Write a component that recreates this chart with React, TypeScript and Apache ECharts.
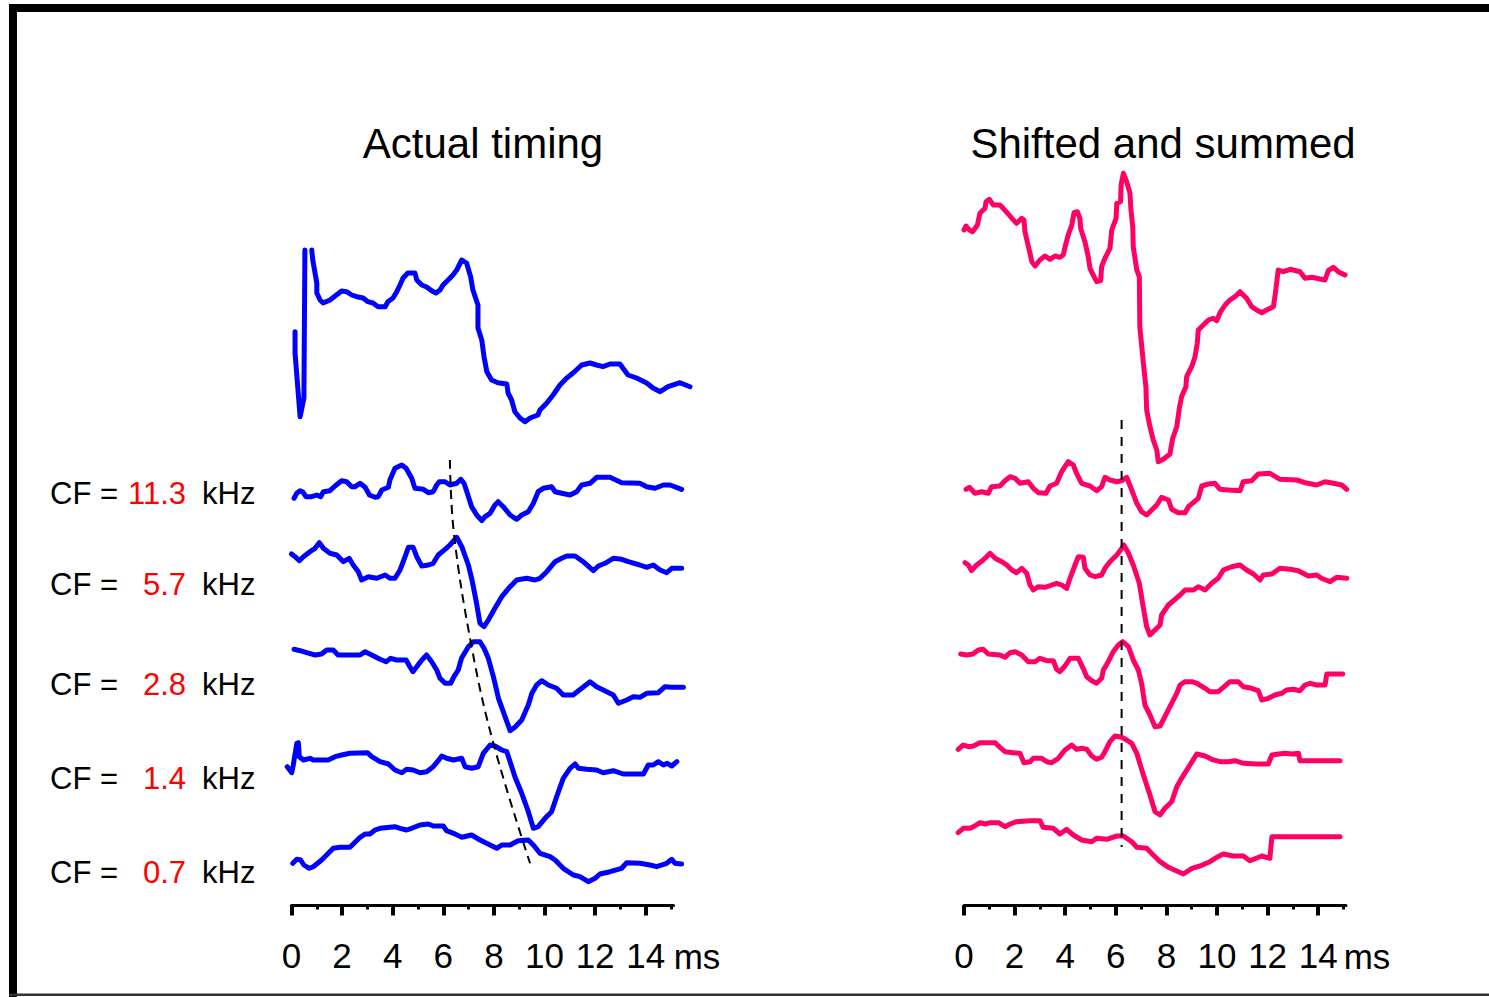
import React, { useEffect, useRef } from "react";
import * as echarts from "echarts";

const FONT = '"Liberation Sans", Arial, Helvetica, sans-serif';
const BLUE = "#0000ff";
const PINK = "#ff0066";
const CF_RED = "#ff0000";

// axis ticks (ms)
const tickValues = [0, 2, 4, 6, 8, 10, 12, 14];
const minorTickValues = [1, 3, 5, 7, 9, 11, 13, 15];
const axisRange = [0, 15.1];
const traceRange = [-0.5, 16.5];
const unitLabel = "ms";
const panelTitles = ["Actual timing", "Shifted and summed"];
const cfLabels = ["11.3", "5.7", "2.8", "1.4", "0.7"];

// vertical offsets of each trace (amplitude units), top trace first
const actualOffsets = [600, 410, 340, 250, 140, 40];
const shiftedOffsets = [670, 410, 330, 245, 155, 70];

// [time ms, amplitude]; null amplitude = gap (clipped)
const actualSum = [[0.14,-31.7],[0.14,-53],[0.34,-116.7],[0.49,-98],[0.53,50],[0.66,null],[0.80,50],[0.84,40],[1.00,17],[1.00,7],[1.13,0],[1.25,-3],[1.52,0],[1.98,9],[2.18,8.3],[2.38,5],[2.58,3.3],[2.83,2],[3.02,-1.7],[3.22,-3],[3.42,-6.7],[3.70,-6.7],[3.81,-1.7],[4.01,2],[4.16,8.3],[4.29,15],[4.41,22],[4.60,27],[4.88,27],[4.95,20],[5.15,15],[5.34,13],[5.54,9.3],[5.71,7],[5.87,10],[5.99,15],[6.19,20],[6.38,25],[6.53,30],[6.73,40],[6.92,37],[7.08,23.3],[7.17,10],[7.37,-5],[7.37,-28],[7.52,-40],[7.61,-56.7],[7.72,-71.7],[7.91,-80],[8.16,-82.7],[8.51,-84],[8.56,-93],[8.70,-100],[8.83,-111.7],[9.03,-118],[9.23,-121.7],[9.43,-118],[9.74,-115],[9.82,-110],[10.09,-103],[10.34,-95],[10.61,-85],[10.88,-78],[11.13,-73],[11.47,-65],[11.80,-63],[12.06,-65],[12.31,-66.7],[12.59,-64],[12.98,-64],[13.30,-75],[13.64,-78],[14.04,-83],[14.29,-88],[14.57,-91.7],[14.88,-86.7],[15.36,-82.7],[15.75,-86.7]];
const actual11_3 = [[0.10,-8.3],[0.21,-3.3],[0.34,-0.7],[0.44,-1.7],[0.57,-6.7],[0.80,-6.7],[1.00,-5],[1.15,-6.7],[1.26,-1.7],[1.52,-0.7],[1.72,4],[1.98,9.3],[2.18,8.3],[2.38,3.3],[2.51,3.3],[2.71,6.7],[2.91,2.7],[3.08,-5],[3.30,-7.3],[3.43,-6.7],[3.57,0],[3.83,2.7],[3.89,10],[4.09,21.7],[4.36,25],[4.53,21.7],[4.75,11.7],[4.88,1.7],[5.21,0.7],[5.41,-2.7],[5.60,-1.7],[5.74,5],[5.84,8.3],[6.07,8.3],[6.26,5],[6.53,6.7],[6.69,10.7],[6.82,6.7],[6.95,-3.3],[7.12,-16.7],[7.32,-25],[7.52,-30.7],[7.65,-26.7],[7.85,-23.3],[8.04,-15],[8.17,-11.7],[8.37,-16.7],[8.64,-25],[8.90,-29.3],[9.10,-25],[9.36,-21.7],[9.56,-13.3],[9.75,-1.7],[9.95,1.7],[10.28,3.3],[10.42,-1.7],[10.68,-3.3],[11.01,-5],[11.27,-1.7],[11.47,5],[11.80,6.7],[12.06,12.7],[12.59,12.7],[13.05,7.3],[13.77,6.7],[14.04,3.3],[14.37,1.7],[14.70,5],[14.96,5],[15.42,0.7]];
const actual5_7 = [[0.00,6],[0.14,3.3],[0.31,-0.7],[0.47,3.3],[0.73,8.3],[0.93,11.7],[1.10,17.3],[1.26,11.7],[1.52,6.7],[1.79,5],[2.05,-1.7],[2.28,1.7],[2.44,-5],[2.64,-11.7],[2.77,-20],[3.04,-16.7],[3.37,-18.3],[3.70,-15],[3.89,-18.3],[4.09,-18.3],[4.29,-10],[4.49,3.3],[4.62,12.7],[4.81,12.7],[4.95,3.3],[5.15,-6],[5.41,-5],[5.60,-3.3],[5.80,5],[6.07,10.7],[6.26,15],[6.53,22.7],[6.73,13.3],[6.99,-5],[7.12,-18.3],[7.29,-40],[7.45,-63.3],[7.61,-66.7],[7.78,-60],[8.04,-48.3],[8.31,-36.7],[8.64,-26.7],[8.90,-20],[9.30,-18.3],[9.62,-20],[9.82,-18.3],[10.09,-11.7],[10.42,-1.7],[10.68,1.7],[10.88,4],[11.21,4],[11.53,-1.7],[11.93,-10.7],[12.13,-6],[12.39,-3.3],[12.72,1.7],[13.05,0.7],[13.31,-1.7],[13.77,-5],[14.04,-7.3],[14.30,-5],[14.57,-10],[14.83,-12.7],[15.03,-8.3],[15.42,-8.3]];
const actual2_8 = [[0.10,0.7],[0.34,-0.7],[0.60,-2.7],[0.93,-5],[1.19,-4],[1.39,0],[1.65,0],[1.84,-5],[2.18,-5],[2.71,-5],[2.91,-1.7],[3.17,-5],[3.50,-9.3],[3.74,-11.7],[3.92,-8.3],[4.16,-10],[4.53,-10],[4.66,-16],[4.80,-21.7],[4.95,-16.7],[5.15,-10],[5.34,-5],[5.54,-11.7],[5.74,-20],[5.87,-28.3],[6.07,-33.3],[6.29,-33.3],[6.42,-26.7],[6.59,-20],[6.72,-8.3],[6.99,3.3],[7.19,8.3],[7.45,8.3],[7.61,1.7],[7.78,-8.3],[7.98,-26.7],[8.18,-48.3],[8.44,-66.7],[8.64,-80.7],[8.83,-77.3],[9.10,-70],[9.36,-55],[9.50,-43.3],[9.69,-35],[9.89,-30.7],[10.15,-35],[10.48,-38.3],[10.74,-45],[11.13,-45],[11.47,-38.3],[11.80,-31.7],[12.06,-36.7],[12.46,-41.7],[12.72,-45],[12.92,-53.3],[13.25,-50],[13.51,-46.7],[13.77,-47.3],[14.04,-43.3],[14.50,-42.7],[14.76,-36.7],[15.03,-37.3],[15.49,-37.3]];
const actual1_4 = [[-0.17,-6.7],[0.01,-12.7],[0.07,-5],[0.21,16.7],[0.27,17.3],[0.31,3.3],[0.47,0],[0.73,1.7],[0.86,0],[1.45,0],[1.72,3.3],[1.98,5],[2.31,6.7],[3.00,7.3],[3.17,3.3],[3.50,-1.7],[3.83,-4],[4.09,-10],[4.36,-12.7],[4.55,-9.3],[4.81,-10],[5.08,-12.7],[5.34,-11.7],[5.60,-6.7],[5.80,-0.7],[5.94,4],[6.13,1.7],[6.40,0],[6.73,1.7],[6.86,-6.7],[7.12,-8.3],[7.38,-6.7],[7.58,6.7],[7.85,15],[8.04,14],[8.31,10],[8.51,8.3],[8.64,-1.7],[8.83,-16.7],[9.10,-33.3],[9.36,-51.7],[9.56,-68.3],[9.75,-66.7],[10.02,-58.3],[10.28,-51.7],[10.48,-36.7],[10.74,-18.3],[11.01,-8.3],[11.21,-4],[11.34,-8.3],[11.67,-9.3],[12.06,-10],[12.32,-12.7],[12.72,-10.7],[13.11,-14],[13.91,-14],[14.10,-5],[14.30,-5],[14.50,-1.7],[14.70,-5],[14.85,-3.3],[15.03,-6],[15.23,-1.7]];
const actual0_7 = [[0.05,-3.3],[0.21,0.7],[0.36,0],[0.49,-5],[0.70,-8.3],[0.86,-6.7],[1.19,0],[1.65,11.7],[1.92,12.7],[2.31,12.7],[2.71,22.7],[2.91,26],[3.10,26],[3.30,30],[3.50,31.7],[4.09,33.3],[4.29,31.7],[4.55,30],[4.75,31.7],[5.08,35],[5.41,36],[5.60,34],[6.00,34],[6.13,29.3],[6.40,26.7],[6.73,22.7],[7.12,25],[7.45,20],[7.85,15],[8.11,11.7],[8.31,15],[8.64,15],[8.96,19.3],[9.36,20],[9.56,15],[9.82,6.7],[10.22,3.3],[10.42,0],[10.74,-8.3],[11.14,-15],[11.40,-16.7],[11.73,-21.7],[12.00,-18.3],[12.19,-14],[12.59,-11.7],[13.05,-8.3],[13.25,-2.7],[13.77,-3.3],[14.17,-5],[14.43,-6.7],[14.83,-3.3],[15.03,0.7],[15.16,-3.3],[15.42,-4]];

const shiftedSum = [[0.00,0],[0.08,4],[0.21,0],[0.34,-1.7],[0.53,5],[0.63,16.7],[0.83,21.7],[0.87,28.3],[1.00,30.7],[1.16,25],[1.42,25],[1.55,21.7],[1.75,16],[1.95,10],[2.08,6.7],[2.28,11.7],[2.37,10],[2.41,-1.7],[2.50,-11.7],[2.61,-23.3],[2.68,-31.7],[2.81,-36],[3.00,-30],[3.20,-26],[3.40,-29.3],[3.60,-26],[3.79,-27.3],[3.92,-25],[4.03,-13.3],[4.12,-5],[4.26,5],[4.35,17.3],[4.48,18.3],[4.58,11.7],[4.61,1.7],[4.78,-11.7],[4.91,-26.7],[4.98,-38.3],[5.14,-46.7],[5.25,-51.7],[5.40,-50.7],[5.44,-36.7],[5.57,-28.3],[5.77,-18.3],[5.84,0],[6.01,11.7],[6.04,26.7],[6.19,28.3],[6.21,45],[6.30,56.7],[6.43,48.3],[6.56,36.7],[6.60,20],[6.67,3.3],[6.69,-16.7],[6.83,-40],[6.93,-46.7],[6.95,-96.7],[7.09,-133.3],[7.19,-156.7],[7.22,-180],[7.35,-196.7],[7.48,-210],[7.62,-220],[7.68,-231.7],[7.88,-229.3],[8.14,-224],[8.25,-208.3],[8.41,-196.7],[8.51,-178.3],[8.60,-166.7],[8.77,-156.7],[8.80,-146.7],[9.00,-136.7],[9.13,-126.7],[9.22,-113.3],[9.26,-100],[9.46,-95],[9.66,-90],[9.85,-88.3],[9.99,-90.7],[10.12,-82.7],[10.32,-75],[10.51,-70],[10.71,-66.7],[10.91,-61.7],[11.04,-65],[11.17,-68.3],[11.37,-76.7],[11.57,-80],[11.77,-82.7],[11.96,-80],[12.23,-76.7],[12.29,-66.7],[12.42,-40],[12.62,-41.7],[12.89,-39.3],[13.28,-41.7],[13.48,-48.3],[13.74,-47.3],[14.27,-50],[14.40,-40.7],[14.60,-37.3],[14.79,-41.7],[15.06,-45]];
const shifted11_3 = [[0.08,0.7],[0.21,2.7],[0.43,-3.3],[0.70,-1.7],[0.96,-3.3],[1.09,3.3],[1.42,4],[1.62,9.3],[1.82,13.3],[2.02,11.7],[2.21,6.7],[2.54,8.3],[2.74,1.7],[2.94,-2.7],[3.24,-3.3],[3.40,4],[3.66,6.7],[3.86,18.3],[4.12,28.3],[4.32,25],[4.45,16.7],[4.65,6.7],[4.98,4],[5.25,-0.7],[5.44,3.3],[5.57,12.7],[5.77,10],[6.04,8.3],[6.23,9.3],[6.43,12.7],[6.63,0],[6.83,-13.3],[7.02,-21.7],[7.22,-25],[7.42,-20],[7.62,-15],[7.81,-7.3],[8.08,-10],[8.21,-19.3],[8.47,-22.7],[8.74,-22.7],[8.87,-16.7],[9.26,-8.3],[9.40,4],[9.66,6],[9.92,6.7],[10.12,0.7],[10.45,0],[10.91,-0.7],[11.04,8.3],[11.37,9.3],[11.63,16],[12.09,16.7],[12.49,10.7],[13.15,10],[13.48,7.3],[13.94,5],[14.27,8.3],[14.60,6.7],[14.93,5],[15.13,0.7]];
const shifted5_7 = [[0.04,7.3],[0.17,5],[0.30,-0.7],[0.50,5],[0.76,10],[1.03,16.7],[1.23,11.7],[1.49,8.3],[1.69,5],[1.89,0],[2.08,-2.7],[2.28,1.7],[2.48,-3.3],[2.61,-15],[2.74,-20],[2.94,-16.7],[3.20,-17.3],[3.47,-15],[3.66,-13.3],[3.86,-15],[4.06,-18.3],[4.19,-8.3],[4.39,5],[4.52,13.3],[4.72,12.7],[4.78,1.7],[4.98,-5],[5.18,-6.7],[5.44,-5],[5.57,1.7],[5.77,8.3],[6.04,15],[6.19,20],[6.32,25],[6.50,16.7],[6.69,5],[6.93,-13.3],[7.06,-33.3],[7.22,-56.7],[7.35,-65],[7.55,-60],[7.75,-55],[7.81,-45],[8.08,-35],[8.34,-29.3],[8.54,-25],[8.74,-20],[9.07,-20],[9.26,-16.7],[9.53,-20],[9.79,-13.3],[10.05,-8.3],[10.25,0],[10.58,3.3],[10.91,5],[11.17,0],[11.44,-4],[11.70,-10],[11.83,-5],[12.17,-4],[12.49,1.7],[12.89,0.7],[13.21,-0.7],[13.61,-6],[13.94,-5],[14.13,-8.3],[14.47,-11.7],[14.73,-7.3],[15.13,-8.3]];
const shifted2_8 = [[-0.13,1],[0.11,0],[0.35,1],[0.57,5],[0.76,5.7],[0.96,1],[1.42,0],[1.62,-2.3],[1.82,2.3],[2.02,3.3],[2.28,0],[2.54,-6.7],[2.81,-6.7],[3.00,-3.3],[3.27,-5.7],[3.53,-5.7],[3.66,-14.3],[3.79,-16.7],[3.99,-11],[4.19,-3.3],[4.52,-3.3],[4.71,-13.3],[4.85,-21.7],[5.05,-25.7],[5.24,-28.3],[5.44,-23.3],[5.51,-15],[5.70,-6.7],[5.90,3.3],[6.10,10],[6.27,13.3],[6.50,8.3],[6.69,-5],[6.89,-15],[7.02,-28.3],[7.15,-50],[7.35,-60],[7.55,-71.7],[7.75,-71],[7.94,-61.7],[8.14,-51.7],[8.41,-38.3],[8.54,-30],[8.74,-26.7],[9.01,-26.7],[9.21,-28.3],[9.53,-33.3],[9.72,-36.7],[10.05,-36.7],[10.25,-32.3],[10.51,-26.7],[10.84,-26.7],[11.04,-31.7],[11.37,-33.3],[11.63,-35.7],[11.77,-45],[12.03,-43.3],[12.29,-40],[12.56,-38.3],[12.75,-35],[13.02,-34.3],[13.28,-35.7],[13.48,-30],[13.68,-28.3],[13.94,-30],[14.27,-30],[14.34,-19],[14.97,-19]];
const shifted1_4 = [[-0.23,-4.3],[-0.03,0],[0.17,-1.7],[0.37,-1],[0.63,2.3],[1.23,2.3],[1.42,-2.3],[1.62,-6.7],[1.95,-7.7],[2.21,-8.3],[2.37,-17.7],[2.61,-16.7],[2.74,-13.3],[3.07,-13.3],[3.27,-16.7],[3.47,-17.7],[3.73,-13.3],[3.99,-5],[4.26,0],[4.45,-4.3],[4.65,-3.3],[4.85,-4.3],[5.05,-11],[5.24,-14.3],[5.44,-12.3],[5.57,-6.7],[5.77,3.3],[5.97,9],[6.23,7.7],[6.43,5],[6.63,1.7],[6.83,-8.3],[7.09,-30],[7.35,-50],[7.55,-66.7],[7.75,-70],[7.94,-63.3],[8.21,-56.7],[8.41,-41.7],[8.60,-33.3],[8.93,-20],[9.20,-9],[9.53,-11],[9.79,-14.3],[10.12,-16.7],[10.45,-16.7],[10.71,-15.7],[11.04,-18.3],[11.57,-19],[12.03,-19],[12.17,-10],[12.43,-9],[12.69,-8.3],[12.96,-9],[13.22,-8.3],[13.28,-15.7],[14.86,-15.7]];
const shifted0_7 = [[-0.23,-2.7],[-0.03,1.7],[0.24,1.7],[0.43,4],[0.63,7.3],[0.83,6],[1.03,7.3],[1.36,7.3],[1.62,3.3],[1.82,6],[2.08,8.3],[2.61,9.3],[3.00,9.3],[3.13,2.7],[3.53,1.7],[3.79,-4],[4.06,0.7],[4.32,-5],[4.65,-10],[5.05,-11.7],[5.24,-8.3],[5.64,-9.3],[6.04,-6],[6.30,-6],[6.63,-11.7],[6.83,-17.3],[7.22,-18.3],[7.48,-25],[7.75,-31.7],[8.08,-37.3],[8.67,-44],[9.01,-38.3],[9.33,-36],[9.72,-31.7],[9.99,-27.3],[10.25,-24],[10.64,-26],[11.04,-26],[11.30,-30.7],[11.77,-26],[12.09,-28.3],[12.17,-6.7],[14.86,-6.7]];

// latency guide lines [time ms, level]
const latencyCurve = [[6.26,440],[6.42,366.7],[7.12,253.3],[7.98,156.7],[9.43,36.7]];
const alignLine = [[6.23,480],[6.23,53]];

const actualTraces = [actualSum, actual11_3, actual5_7, actual2_8, actual1_4, actual0_7];
const shiftedTraces = [shiftedSum, shifted11_3, shifted5_7, shifted2_8, shifted1_4, shifted0_7];

// layout (pixels)
const PX_PER_MS = 25.3;
const AXIS_Y = 905.5;
const PANEL_X0 = [291.5, 964];

function traceSeries(data: any[], offset: number, panel: number, color: string) {
  return {
    type: "line",
    xAxisIndex: 4 + panel,
    yAxisIndex: 2 + panel,
    data: data.map((p) => [p[0], p[1] == null ? null : p[1] + offset]),
    symbol: "none",
    showSymbol: false,
    clip: false,
    silent: true,
    connectNulls: false,
    lineStyle: { color, width: 5, cap: "round", join: "round" },
    itemStyle: { color },
    z: 3,
  };
}

function mainAxis(g: number) {
  return {
    type: "value",
    gridIndex: g,
    min: axisRange[0],
    max: axisRange[1],
    position: "bottom",
    axisLine: { show: true, onZero: false, lineStyle: { color: "#000", width: 3 } },
    axisTick: { show: true, customValues: tickValues, length: 10, lineStyle: { color: "#000", width: 4 } },
    axisLabel: {
      show: true,
      customValues: tickValues,
      margin: 50,
      verticalAlign: "middle",
      fontSize: 35,
      color: "#000",
      fontFamily: FONT,
    },
    splitLine: { show: false },
  };
}

function minorAxis(g: number) {
  return {
    type: "value",
    gridIndex: g,
    min: axisRange[0],
    max: axisRange[1],
    position: "bottom",
    axisLine: { show: false, onZero: false },
    axisTick: { show: true, customValues: minorTickValues, length: 4, lineStyle: { color: "#000", width: 3 } },
    axisLabel: { show: false, customValues: minorTickValues },
    splitLine: { show: false },
  };
}

function hiddenX(g: number) {
  return { type: "value", gridIndex: g, min: traceRange[0], max: traceRange[1], show: false, axisLine: { onZero: false } };
}

function hiddenY(g: number) {
  return { type: "value", gridIndex: g, min: -5.5, max: 900, show: false };
}

function txt(text: string, x: number, y: number, size: number, color: string, align: string) {
  return {
    type: "text",
    x,
    y,
    silent: true,
    z: 10,
    style: {
      text,
      fill: color,
      fontSize: size,
      fontFamily: FONT,
      align,
      textAlign: align,
      verticalAlign: "middle",
      textVerticalAlign: "middle",
    },
  };
}

export default function App() {
  const ref = useRef<HTMLDivElement>(null);
  useEffect(() => {
    if (!ref.current) return;
    const chart = echarts.init(ref.current, undefined, { renderer: "svg" });
    const series: any[] = [];
    actualTraces.forEach((t, i) => series.push(traceSeries(t, actualOffsets[i], 0, BLUE)));
    shiftedTraces.forEach((t, i) => series.push(traceSeries(t, shiftedOffsets[i], 1, PINK)));
    series.push({
      type: "line",
      xAxisIndex: 4,
      yAxisIndex: 2,
      data: latencyCurve,
      smooth: 0.4,
      symbol: "none",
      clip: false,
      silent: true,
      lineStyle: { color: "#000", width: 2, type: [9, 6] },
      z: 4,
    });
    series.push({
      type: "line",
      xAxisIndex: 5,
      yAxisIndex: 3,
      data: alignLine,
      symbol: "none",
      clip: false,
      silent: true,
      lineStyle: { color: "#000", width: 2, type: [9, 8] },
      z: 4,
    });

    const axisW = (axisRange[1] - axisRange[0]) * PX_PER_MS;
    const traceW = (traceRange[1] - traceRange[0]) * PX_PER_MS;
    const grids = [
      ...PANEL_X0.map((x0) => ({ left: x0, top: 0, width: axisW, height: AXIS_Y, outerBoundsMode: "none" })),
      ...PANEL_X0.map((x0) => ({
        left: x0 + traceRange[0] * PX_PER_MS,
        top: 0,
        width: traceW,
        height: AXIS_Y,
        outerBoundsMode: "none",
      })),
    ];

    const rowY = [493, 584, 684, 778, 872];
    const graphic: any[] = [
      { type: "rect", silent: true, shape: { x: 9, y: 4, width: 1480, height: 8 }, style: { fill: "#000" } },
      { type: "rect", silent: true, shape: { x: 9, y: 4, width: 8, height: 993 }, style: { fill: "#000" } },
      { type: "rect", silent: true, shape: { x: 9, y: 993.5, width: 1480, height: 2.5 }, style: { fill: "#333" } },
      txt(panelTitles[0], 483, 143, 42, "#000", "center"),
      txt(panelTitles[1], 1163, 143, 42, "#000", "center"),
      txt(unitLabel, 697, 956, 35, "#000", "center"),
      txt(unitLabel, 1367, 956, 35, "#000", "center"),
    ];
    cfLabels.forEach((lab, i) => {
      graphic.push(txt("CF =", 50, rowY[i], 31, "#000", "left"));
      graphic.push(txt(lab, 186, rowY[i], 31, CF_RED, "right"));
      graphic.push(txt("kHz", 202, rowY[i], 31, "#000", "left"));
    });

    chart.setOption({
      animation: false,
      backgroundColor: "#ffffff",
      grid: grids,
      xAxis: [mainAxis(0), minorAxis(0), mainAxis(1), minorAxis(1), hiddenX(2), hiddenX(3)],
      yAxis: [hiddenY(0), hiddenY(1), hiddenY(2), hiddenY(3)],
      series,
      graphic,
    });
    return () => chart.dispose();
  }, []);
  return (
    <div
      ref={ref}
      style={{ position: "fixed", left: 0, top: 0, width: 1489, height: 997, background: "#fff" }}
    />
  );
}
